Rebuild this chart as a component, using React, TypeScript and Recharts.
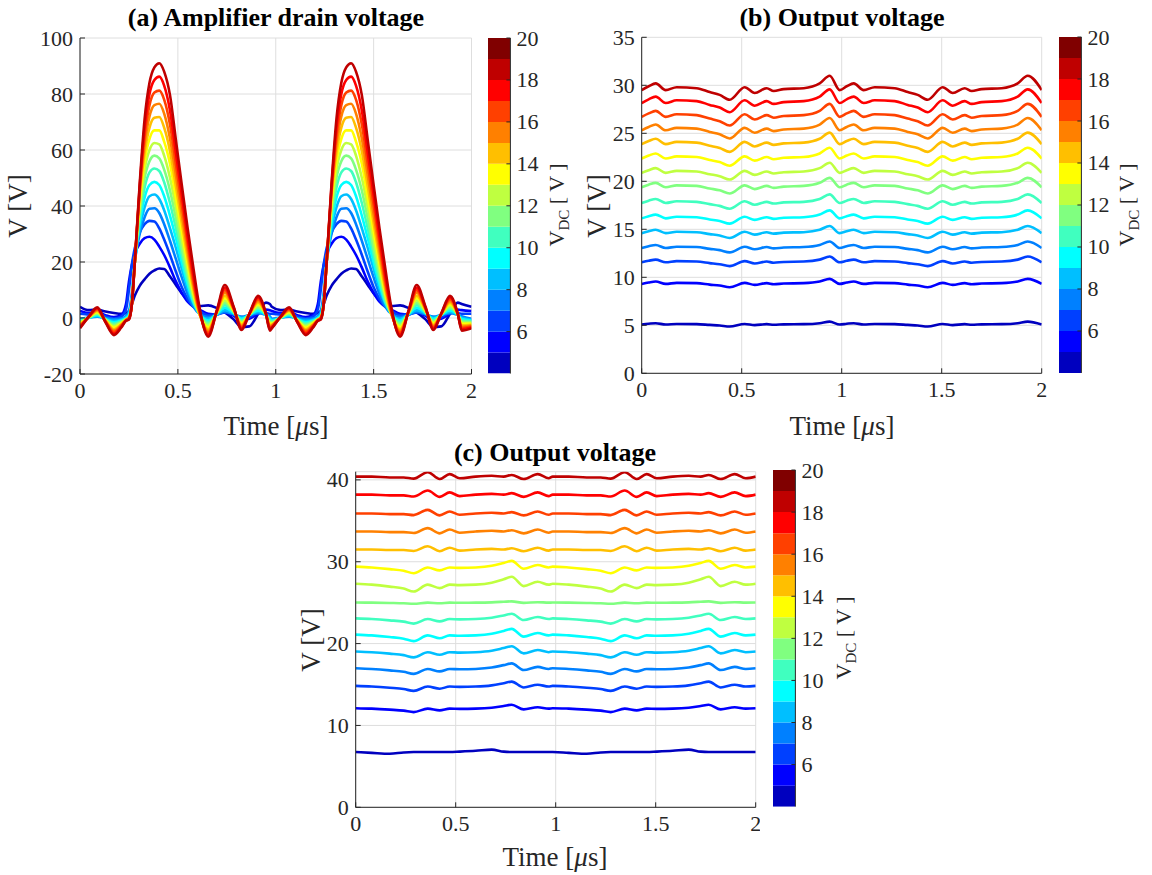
import React from 'react';
import { LineChart, Line, XAxis, YAxis, CartesianGrid, BarChart, Bar } from 'recharts';

const FONT = '"Liberation Serif", "Times New Roman", Times, serif';
const INK = '#262626';
const GRID = '#dedede';
const TICK_FS = 22;
const LABEL_FS = 27;
const TITLE_FS = 26;

// jet colormap with 16 levels (colorbar bands); curves use the first 15
const JET16 = ['#0000BF', '#0000FF', '#0040FF', '#0080FF', '#00BFFF', '#00FFFF', '#40FFBF', '#80FF80',
  '#BFFF40', '#FFFF00', '#FFBF00', '#FF8000', '#FF4000', '#FF0000', '#BF0000', '#800000'];
const CB_EDGES = [4, 5, 6, 7, 8, 9, 10, 11, 12, 13, 14, 15, 16, 17, 18, 19, 20];
const CB_TICKS = [6, 8, 10, 12, 14, 16, 18, 20];
const TIME_TICKS = [0, 0.5, 1, 1.5, 2];

// ---------- (a) Amplifier drain voltage: one period, repeated every 0.98 us ----------
const PERIOD_A = 0.98;
const TIME_A = [0, 0.045, 0.088, 0.13, 0.173, 0.21, 0.235, 0.25, 0.265, 0.28, 0.305, 0.33, 0.355, 0.38, 0.405,
  0.43, 0.46, 0.49, 0.52, 0.55, 0.58, 0.61, 0.655, 0.7, 0.74, 0.785, 0.825, 0.865, 0.91, 0.95, 0.97];
const DRAIN_0 = [4.0, 2.8, 3.0, 2.3, 1.8, 1.5, 1.8, 2.5, 5, 8, 11.5, 13.8, 15.8, 17, 17.7, 17.5, 14.8, 11.8, 8.8, 6.5, 4.7, 4.3, 4.5, 3.5, 2, -0.5, -3.2, -3, 1.5, 5.5, 5];
const DRAIN_1 = [2.5, 1.8, 2.2, 1.0, 0.3, 1.0, 5, 13, 19, 23, 26.5, 28.5, 29, 28, 25.5, 22.5, 18, 13, 9, 5.8, 4, 3, 1.5, 1.3, 2, 0.8, -0.8, -0.3, 1.5, 3, 2.8];
const DRAIN_2 = [1.5, 1.2, 1.8, 0.5, -0.2, 0.5, 3, 10, 19, 25, 30.5, 33.5, 34.7, 34.5, 32, 28, 22.5, 16.5, 11, 6.8, 4, 2.5, 1, 1.5, 2.5, 1.2, -0.3, 0.3, 1.8, 1.8, 1.5];
const DRAIN_3 = [-0.3, 0.2, 0.5, 0, -0.5, -0.2, 0.8, 2.5, 9, 20, 30, 36, 39, 39.2, 37.5, 33.5, 27.5, 21, 14.5, 8.5, 4, 1.5, 0.3, 1.2, 2.1, 1.3, 0.5, 1.1, 1.7, 1.1, 0.6];
const DRAIN_4 = [-0.6, 0.1, 0.6, -0.3, -1.0, -0.6, 0.3, 1.5, 7, 20, 32, 39.5, 43.5, 44.1, 42.5, 38.5, 32, 25, 17.5, 10.5, 5, 1.5, -0.3, 1.3, 2.8, 1.5, 0.1, 1.1, 2.2, 1.1, 0.1];
const DRAIN_5 = [-0.9, 0.1, 1.0, -0.4, -1.5, -0.9, 0, 1, 6.5, 20, 34, 43, 47.5, 48.6, 47.5, 43.5, 36.5, 28.5, 20, 12, 5.5, 1.5, -0.9, 1.5, 3.7, 1.8, -0.3, 1.1, 2.7, 1.1, -0.4];
const DRAIN_6 = [-1.2, 0.2, 1.3, -0.5, -2.0, -1.2, -0.3, 0.5, 6, 20, 36, 46.5, 52, 53.4, 52.5, 48.5, 41, 32, 22.5, 13.5, 6, 1.5, -1.5, 1.7, 4.6, 2.0, -0.8, 1.2, 3.3, 1.2, -0.8];
const DRAIN_7 = [-1.5, 0.2, 1.6, -0.6, -2.5, -1.4, -0.4, 0.5, 6, 20, 38, 50, 56, 58, 57, 53, 45.5, 35.5, 25, 15.5, 7, 1.5, -2.2, 1.8, 5.4, 2.2, -1.2, 1.2, 3.8, 1.2, -1.3];
const DRAIN_8 = [-1.8, 0.2, 1.9, -0.7, -3.0, -1.7, -0.5, 0, 5.5, 20, 40, 53, 60, 62.5, 62, 58, 50, 39.5, 28, 17.5, 8, 1.5, -2.8, 2.0, 6.3, 2.5, -1.6, 1.2, 4.4, 1.2, -1.7];
const DRAIN_9 = [-2.1, 0.3, 2.2, -0.9, -3.5, -2.0, -0.6, 0, 5.5, 20, 42, 56, 64, 67, 67, 63, 55, 43, 31, 19.5, 9, 1.5, -3.4, 2.1, 7.2, 2.7, -2.0, 1.3, 4.9, 1.3, -2.1];
const DRAIN_10 = [-2.4, 0.3, 2.5, -1.0, -4.0, -2.3, -0.7, 0, 5, 20, 44, 59, 68, 71.5, 71.8, 68, 59.5, 47, 34, 21.5, 10, 1.5, -4.0, 2.3, 8.0, 3.0, -2.4, 1.3, 5.5, 1.3, -2.6];
const DRAIN_11 = [-2.7, 0.4, 2.8, -1.1, -4.5, -2.6, -0.7, 0, 5, 20, 45, 62, 72, 76, 76.5, 73, 64, 51, 37, 24, 11.5, 2, -4.7, 2.5, 9.0, 3.2, -2.9, 1.4, 6.1, 1.4, -3.1];
const DRAIN_12 = [-3.0, 0.4, 3.1, -1.2, -5.0, -2.9, -0.8, 0, 5, 20, 46, 65, 76, 80.5, 81.2, 78, 69, 55, 40.5, 26.5, 13, 2.5, -5.3, 2.6, 9.9, 3.5, -3.3, 1.4, 6.7, 1.4, -3.5];
const DRAIN_13 = [-3.4, 0.5, 3.5, -1.4, -5.6, -3.2, -0.9, -0.5, 5, 20, 47, 68, 80, 85, 86.2, 83, 74, 59, 44, 29, 15, 3, -6.0, 2.8, 10.8, 3.7, -3.8, 1.5, 7.3, 1.5, -4.0];
const DRAIN_14 = [-3.7, 0.5, 3.8, -1.5, -6.1, -3.5, -1.0, -0.5, 5, 20, 48, 71, 84, 89.5, 91, 88, 79.5, 63.5, 47.5, 32, 17.5, 4, -6.7, 3, 11.8, 4, -4.3, 1.5, 7.9, 1.5, -4.5];
const DRAIN = [DRAIN_0, DRAIN_1, DRAIN_2, DRAIN_3, DRAIN_4, DRAIN_5, DRAIN_6, DRAIN_7, DRAIN_8, DRAIN_9, DRAIN_10, DRAIN_11, DRAIN_12, DRAIN_13, DRAIN_14];
const Y_TICKS_A = [-20, 0, 20, 40, 60, 80, 100];

// ---------- (b) Output voltage ----------
const PERIOD_B = 0.99;
const TIME_B = [0, 0.035, 0.07, 0.12, 0.175, 0.275, 0.34, 0.39, 0.44, 0.515, 0.565, 0.625, 0.66, 0.71, 0.81, 0.89, 0.94];
const OUT_B_0 = [5.08, 5.16, 5.22, 5.08, 5.14, 5.12, 5.04, 4.98, 4.88, 5.14, 5.02, 5.12, 5.06, 5.1, 5.12, 5.22, 5.38];
const OUT_B_1 = [9.31, 9.46, 9.56, 9.31, 9.42, 9.39, 9.24, 9.14, 8.96, 9.42, 9.21, 9.39, 9.28, 9.35, 9.39, 9.56, 9.84];
const OUT_B_2 = [11.56, 11.72, 11.84, 11.56, 11.68, 11.64, 11.48, 11.36, 11.16, 11.68, 11.44, 11.64, 11.52, 11.6, 11.64, 11.84, 12.16];
const OUT_B_3 = [13.05, 13.24, 13.37, 13.05, 13.19, 13.15, 12.96, 12.83, 12.6, 13.19, 12.92, 13.15, 13.01, 13.1, 13.15, 13.37, 13.73];
const OUT_B_4 = [14.6, 14.8, 14.95, 14.6, 14.75, 14.7, 14.5, 14.35, 14.1, 14.75, 14.45, 14.7, 14.55, 14.65, 14.7, 14.95, 15.35];
const OUT_B_5 = [16.14, 16.37, 16.53, 16.14, 16.31, 16.26, 16.03, 15.87, 15.59, 16.31, 15.98, 16.26, 16.09, 16.2, 16.26, 16.53, 16.97];
const OUT_B_6 = [17.74, 17.98, 18.16, 17.74, 17.92, 17.86, 17.62, 17.44, 17.14, 17.92, 17.56, 17.86, 17.68, 17.8, 17.86, 18.16, 18.64];
const OUT_B_7 = [19.38, 19.65, 19.84, 19.38, 19.58, 19.52, 19.25, 19.06, 18.73, 19.58, 19.19, 19.52, 19.32, 19.45, 19.52, 19.84, 20.36];
const OUT_B_8 = [20.88, 21.16, 21.37, 20.88, 21.09, 21.02, 20.74, 20.53, 20.18, 21.09, 20.67, 21.02, 20.81, 20.95, 21.02, 21.37, 21.93];
const OUT_B_9 = [22.37, 22.68, 22.9, 22.37, 22.6, 22.53, 22.22, 22.0, 21.62, 22.6, 22.15, 22.53, 22.3, 22.45, 22.53, 22.9, 23.5];
const OUT_B_10 = [23.87, 24.19, 24.43, 23.87, 24.11, 24.03, 23.71, 23.47, 23.07, 24.11, 23.63, 24.03, 23.79, 23.95, 24.03, 24.43, 25.07];
const OUT_B_11 = [25.31, 25.66, 25.91, 25.31, 25.57, 25.49, 25.14, 24.89, 24.46, 25.57, 25.06, 25.49, 25.23, 25.4, 25.49, 25.91, 26.59];
const OUT_B_12 = [26.71, 27.07, 27.34, 26.71, 26.98, 26.89, 26.53, 26.26, 25.81, 26.98, 26.44, 26.89, 26.62, 26.8, 26.89, 27.34, 28.06];
const OUT_B_13 = [28.15, 28.54, 28.82, 28.15, 28.44, 28.35, 27.96, 27.68, 27.2, 28.44, 27.87, 28.35, 28.06, 28.25, 28.35, 28.82, 29.58];
const OUT_B_14 = [29.5, 29.9, 30.2, 29.5, 29.8, 29.7, 29.3, 29.0, 28.5, 29.8, 29.2, 29.7, 29.4, 29.6, 29.7, 30.2, 31.0];
const OUT_B = [OUT_B_0, OUT_B_1, OUT_B_2, OUT_B_3, OUT_B_4, OUT_B_5, OUT_B_6, OUT_B_7, OUT_B_8, OUT_B_9, OUT_B_10, OUT_B_11, OUT_B_12, OUT_B_13, OUT_B_14];
const Y_TICKS_B = [0, 5, 10, 15, 20, 25, 30, 35];

// ---------- (c) Output voltage ----------
const PERIOD_C = 0.985;
const TIME_C = [0, 0.08, 0.17, 0.24, 0.29, 0.36, 0.42, 0.47, 0.52, 0.6, 0.68, 0.74, 0.78, 0.84, 0.91, 0.965];
const OUT_C_0 = [6.75, 6.65, 6.55, 6.7, 6.75, 6.75, 6.75, 6.75, 6.8, 6.9, 7.05, 6.8, 6.75, 6.75, 6.75, 6.75];
const OUT_C_1 = [12.11, 12.05, 11.93, 11.81, 11.63, 12.05, 11.84, 12.05, 12.02, 12.05, 12.17, 12.38, 12.53, 11.96, 12.23, 12.05];
const OUT_C_2 = [14.83, 14.75, 14.6, 14.45, 14.22, 14.75, 14.49, 14.75, 14.71, 14.75, 14.9, 15.16, 15.35, 14.64, 14.98, 14.75];
const OUT_C_3 = [16.99, 16.9, 16.73, 16.56, 16.3, 16.9, 16.6, 16.9, 16.86, 16.9, 17.07, 17.37, 17.58, 16.77, 17.16, 16.9];
const OUT_C_4 = [19.04, 18.95, 18.77, 18.59, 18.32, 18.95, 18.63, 18.95, 18.9, 18.95, 19.13, 19.45, 19.67, 18.81, 19.22, 18.95];
const OUT_C_5 = [21.1, 21.0, 20.8, 20.6, 20.3, 21.0, 20.65, 21.0, 20.95, 21.0, 21.2, 21.55, 21.8, 20.85, 21.3, 21.0];
const OUT_C_6 = [23.08, 23.0, 22.84, 22.68, 22.44, 23.0, 22.72, 23.0, 22.96, 23.0, 23.16, 23.44, 23.64, 22.88, 23.24, 23.0];
const OUT_C_7 = [25.02, 25.0, 24.96, 24.92, 24.86, 25.0, 24.93, 25.0, 24.99, 25.0, 25.04, 25.11, 25.16, 24.97, 25.06, 25.0];
const OUT_C_8 = [27.32, 27.2, 26.96, 26.72, 26.36, 27.2, 26.78, 27.2, 27.14, 27.2, 27.44, 27.86, 28.16, 27.02, 27.56, 27.2];
const OUT_C_9 = [29.4, 29.3, 29.1, 28.9, 28.6, 29.3, 28.95, 29.3, 29.25, 29.3, 29.5, 29.85, 30.1, 29.15, 29.6, 29.3];
const OUT_C_10 = [31.5, 31.5, 31.43, 31.43, 31.32, 31.89, 31.29, 31.71, 31.36, 31.5, 31.57, 31.5, 31.64, 31.29, 31.71, 31.36];
const OUT_C_11 = [33.7, 33.7, 33.62, 33.62, 33.51, 34.11, 33.47, 33.93, 33.55, 33.7, 33.78, 33.7, 33.85, 33.47, 33.93, 33.55];
const OUT_C_12 = [35.9, 35.9, 35.82, 35.82, 35.7, 36.34, 35.66, 36.14, 35.74, 35.9, 35.98, 35.9, 36.06, 35.66, 36.14, 35.74];
const OUT_C_13 = [38.2, 38.2, 38.11, 38.11, 37.97, 38.7, 37.93, 38.47, 38.02, 38.2, 38.29, 38.2, 38.38, 37.93, 38.47, 38.02];
const OUT_C_14 = [40.4, 40.4, 40.3, 40.3, 40.15, 40.95, 40.1, 40.7, 40.2, 40.4, 40.5, 40.4, 40.6, 40.1, 40.7, 40.2];
const OUT_C = [OUT_C_0, OUT_C_1, OUT_C_2, OUT_C_3, OUT_C_4, OUT_C_5, OUT_C_6, OUT_C_7, OUT_C_8, OUT_C_9, OUT_C_10, OUT_C_11, OUT_C_12, OUT_C_13, OUT_C_14];
const Y_TICKS_C = [0, 10, 20, 30, 40];

// two repeated periods + closing sample at t = 2
function buildRows(times: number[], period: number, curves: number[][]) {
  const rows: any[] = [];
  for (let k = 0; k < 2; k++) {
    times.forEach((t, i) => {
      const row: any = { t: +(t + k * period).toFixed(4) };
      curves.forEach((c, j) => { row['c' + j] = c[i]; });
      rows.push(row);
    });
  }
  const end: any = { t: 2 };
  curves.forEach((c, j) => { end['c' + j] = c[0]; });
  rows.push(end);
  return rows;
}

const ROWS_A = buildRows(TIME_A, PERIOD_A, DRAIN);
const ROWS_B = buildRows(TIME_B, PERIOD_B, OUT_B);
const ROWS_C = buildRows(TIME_C, PERIOD_C, OUT_C);

const TM = 7; // tick label margin
const TL = 5; // inward tick length

const bottomTick = (label: boolean) => (p: any) => (
  <g>
    <line x1={p.x} x2={p.x} y1={p.y - TM} y2={p.y - TM - TL} stroke={INK} strokeWidth={1} />
    {label && (
      <text x={p.x} y={p.y + 1} textAnchor="middle" dominantBaseline="hanging" fill={INK} fontSize={TICK_FS} fontFamily={FONT}>
        {String(p.payload.value)}
      </text>
    )}
  </g>
);
const topTick = (p: any) => (
  <line x1={p.x} x2={p.x} y1={p.y} y2={p.y + TL} stroke={INK} strokeWidth={1} />
);
const leftTick = (p: any) => (
  <g>
    <line x1={p.x + TM} x2={p.x + TM + TL} y1={p.y} y2={p.y} stroke={INK} strokeWidth={1} />
    <text x={p.x} y={p.y} textAnchor="end" dominantBaseline="central" fill={INK} fontSize={TICK_FS} fontFamily={FONT}>
      {String(p.payload.value)}
    </text>
  </g>
);
const rightTick = (p: any) => (
  <line x1={p.x} x2={p.x - TL} y1={p.y} y2={p.y} stroke={INK} strokeWidth={1} />
);
const cbTick = (p: any) => (
  <g>
    <line x1={p.x - TM} x2={p.x - TM - 4} y1={p.y} y2={p.y} stroke={INK} strokeWidth={1} />
    <text x={p.x - 1} y={p.y} textAnchor="start" dominantBaseline="central" fill={INK} fontSize={TICK_FS} fontFamily={FONT}>
      {String(p.payload.value)}
    </text>
  </g>
);

type Margin = { top: number; right: number; bottom: number; left: number };

function Panel(props: { left: number; top: number; width: number; height: number; margin: Margin; yDomain: [number, number]; yTicks: number[]; rows: any[]; n: number }) {
  const { left, top, width, height, margin, yDomain, yTicks, rows, n } = props;
  const lines = [];
  for (let i = 0; i < n; i++) {
    lines.push(
      <Line key={i} type="monotone" dataKey={'c' + i} stroke={JET16[i]} strokeWidth={2.6} dot={false} activeDot={false} isAnimationActive={false} />
    );
  }
  return (
    <div style={{ position: 'absolute', left, top }}>
      <LineChart width={width} height={height} data={rows} margin={margin}>
        <CartesianGrid stroke={GRID} strokeWidth={1} />
        <XAxis dataKey="t" type="number" domain={[0, 2]} ticks={TIME_TICKS} interval={0} allowDataOverflow height={30}
          tickSize={0} tickMargin={TM} tickLine={false} axisLine={{ stroke: INK }} tick={bottomTick(true)} />
        <XAxis xAxisId="top" orientation="top" dataKey="t" type="number" domain={[0, 2]} ticks={TIME_TICKS} interval={0} allowDataOverflow height={0}
          tickSize={0} tickMargin={0} tickLine={false} axisLine={{ stroke: INK }} tick={topTick} />
        <YAxis type="number" domain={yDomain} ticks={yTicks} interval={0} allowDataOverflow width={60}
          tickSize={0} tickMargin={TM} tickLine={false} axisLine={{ stroke: INK }} tick={leftTick} />
        <YAxis yAxisId="right" orientation="right" type="number" domain={yDomain} ticks={yTicks} interval={0} allowDataOverflow width={0}
          tickSize={0} tickMargin={0} tickLine={false} axisLine={{ stroke: INK }} tick={rightTick} />
        {lines}
      </LineChart>
    </div>
  );
}

const CB_PAD = 14;

function ColorBar(props: { left: number; top: number; barWidth: number; height: number }) {
  const { left, top, barWidth, height } = props;
  const row: any = { k: 'cb', base: CB_EDGES[0] };
  for (let i = 0; i < 16; i++) row['b' + i] = CB_EDGES[i + 1] - CB_EDGES[i];
  const bars = [<Bar key="base" dataKey="base" stackId="s" fill="none" isAnimationActive={false} />];
  for (let i = 0; i < 16; i++) {
    bars.push(<Bar key={i} dataKey={'b' + i} stackId="s" fill={JET16[i]} isAnimationActive={false} />);
  }
  return (
    <div style={{ position: 'absolute', left, top: top - CB_PAD }}>
      <BarChart width={barWidth + 45} height={height + 2 * CB_PAD} data={[row]} margin={{ top: CB_PAD, right: 0, bottom: CB_PAD, left: 0 }} barCategoryGap={0} barGap={0}>
        <XAxis dataKey="k" height={0} tick={false} tickLine={false} axisLine={{ stroke: INK }} />
        <XAxis xAxisId="top" orientation="top" dataKey="k" height={0} tick={false} tickLine={false} axisLine={{ stroke: INK }} />
        <YAxis orientation="right" type="number" domain={[CB_EDGES[0], CB_EDGES[16]]} ticks={CB_TICKS} interval={0} allowDataOverflow width={45}
          tickSize={0} tickMargin={TM} tickLine={false} axisLine={{ stroke: INK }} tick={cbTick} />
        <YAxis yAxisId="left" orientation="left" type="number" domain={[CB_EDGES[0], CB_EDGES[16]]} allowDataOverflow width={0}
          tick={false} tickLine={false} axisLine={{ stroke: INK }} />
        {bars}
      </BarChart>
    </div>
  );
}

const textBase: React.CSSProperties = { position: 'absolute', fontFamily: FONT, color: INK, whiteSpace: 'nowrap', lineHeight: 1 };

function Title(props: { x: number; y: number; text: string }) {
  return (
    <div style={{ ...textBase, color: '#000', left: props.x, top: props.y, fontSize: TITLE_FS, fontWeight: 'bold', transform: 'translate(-50%, -50%)' }}>
      {props.text}
    </div>
  );
}
function XLabel(props: { x: number; y: number }) {
  return (
    <div style={{ ...textBase, left: props.x, top: props.y, fontSize: LABEL_FS, transform: 'translate(-50%, -50%)' }}>
      Time [<i>μ</i>s]
    </div>
  );
}
function YLabel(props: { x: number; y: number }) {
  return (
    <div style={{ ...textBase, left: props.x, top: props.y, fontSize: LABEL_FS, transform: 'translate(-50%, -50%) rotate(-90deg)' }}>
      V [V]
    </div>
  );
}
function VdcLabel(props: { x: number; y: number }) {
  return (
    <div style={{ ...textBase, left: props.x, top: props.y, fontSize: TICK_FS, transform: 'translate(-50%, -50%) rotate(-90deg)' }}>
      V<sub style={{ fontSize: 15, verticalAlign: '-0.35em' }}>DC</sub> [ V ]
    </div>
  );
}

export default function App() {
  return (
    <div style={{ position: 'absolute', left: 0, top: 0, width: 1152, height: 875, background: '#fff', overflow: 'hidden' }}>
      <Panel left={0} top={0} width={480} height={440} margin={{ top: 38, right: 8.5, bottom: 36, left: 20 }}
        yDomain={[-20, 100]} yTicks={Y_TICKS_A} rows={ROWS_A} n={15} />
      <ColorBar left={488.3} top={37.7} barWidth={22.4} height={335.6} />
      <Title x={276} y={18} text="(a) Amplifier drain voltage" />
      <XLabel x={276} y={426} />
      <YLabel x={18} y={206} />
      <VdcLabel x={559} y={205} />

      <Panel left={560} top={0} width={490} height={440} margin={{ top: 37.3, right: 8.3, bottom: 36.7, left: 21.7 }}
        yDomain={[0, 35]} yTicks={Y_TICKS_B} rows={ROWS_B} n={15} />
      <ColorBar left={1058.5} top={37.3} barWidth={22.4} height={336} />
      <Title x={842} y={18} text="(b) Output voltage" />
      <XLabel x={842} y={426} />
      <YLabel x={597} y={206} />
      <VdcLabel x={1129} y={205} />

      <Panel left={280} top={440} width={480} height={420} margin={{ top: 31.7, right: 4.3, bottom: 22.7, left: 15.7 }}
        yDomain={[0, 41]} yTicks={Y_TICKS_C} rows={ROWS_C} n={15} />
      <ColorBar left={773.3} top={470} barWidth={22.4} height={336.7} />
      <Title x={555} y={453} text="(c) Output voltage" />
      <XLabel x={555} y={857} />
      <YLabel x={311} y={640} />
      <VdcLabel x={846} y={638} />
    </div>
  );
}
